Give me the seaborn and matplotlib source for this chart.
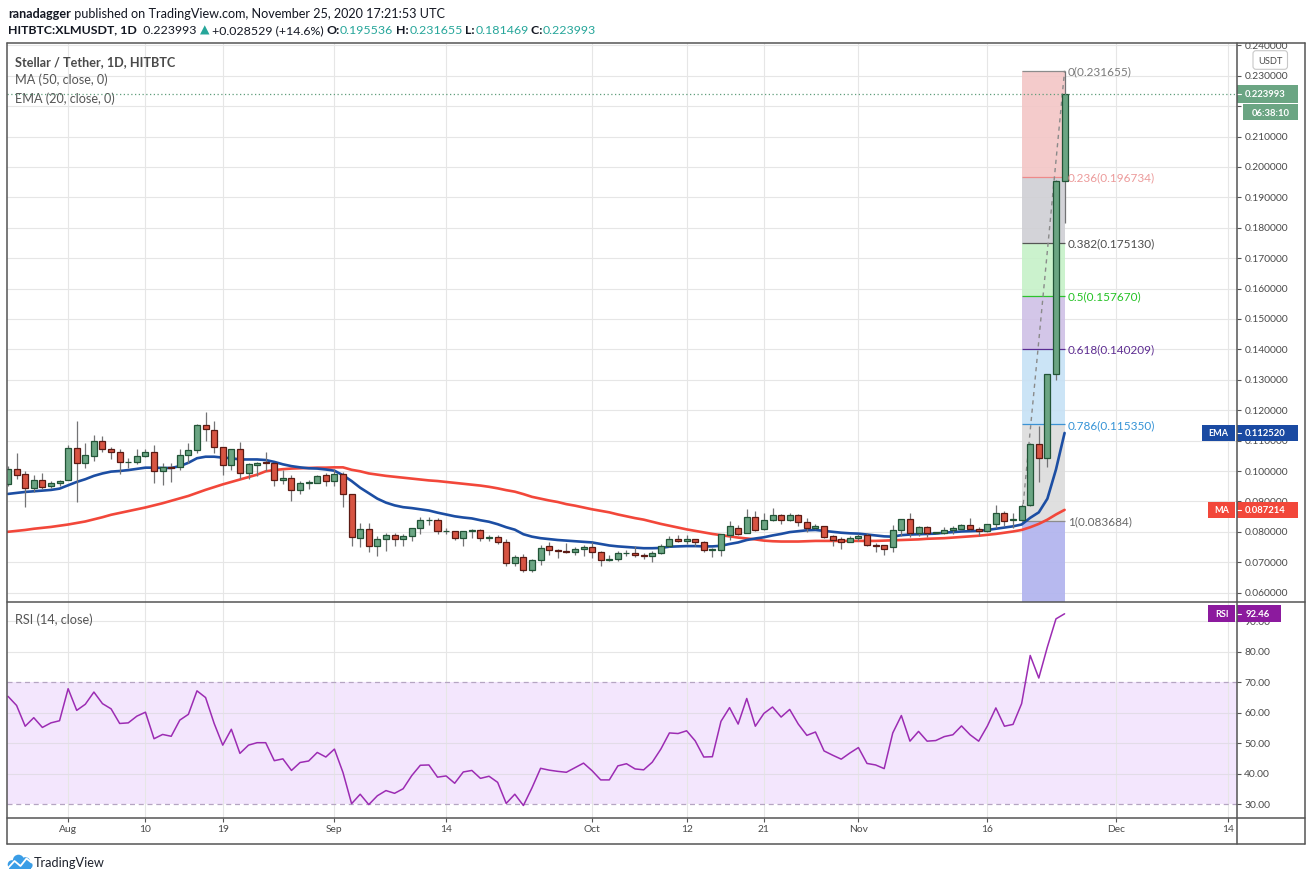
import numpy as np
import pandas as pd
import matplotlib
matplotlib.use("Agg")
import matplotlib.pyplot as plt
import seaborn as sns
from matplotlib import font_manager
from matplotlib.patches import Rectangle, FancyBboxPatch, Circle

# ---------------- data ----------------
start_date = "2020-07-25"

open_ = [
    0.0958, 0.1008, 0.0991, 0.0945, 0.0972, 0.0952, 0.0962, 0.0969, 0.1077, 0.1027,
    0.1049, 0.1099, 0.1073, 0.1063, 0.1030, 0.1030, 0.1050, 0.1063, 0.1001, 0.1013,
    0.1012, 0.1052, 0.1070, 0.1152, 0.1136, 0.1080, 0.1021, 0.1072, 0.0995, 0.1021,
    0.1030, 0.1027, 0.0970, 0.0978, 0.0938, 0.0959, 0.0962, 0.0986, 0.0967, 0.0989,
    0.0923, 0.0781, 0.0809, 0.0752, 0.0776, 0.0791, 0.0776, 0.0786, 0.0811, 0.0838,
    0.0840, 0.0801, 0.0801, 0.0778, 0.0801, 0.0806, 0.0780, 0.0783, 0.0767, 0.0699,
    0.0716, 0.0675, 0.0707, 0.0752, 0.0740, 0.0738, 0.0733, 0.0742, 0.0749, 0.0733,
    0.0708, 0.0710, 0.0729, 0.0731, 0.0723, 0.0721, 0.0731, 0.0752, 0.0775, 0.0771,
    0.0775, 0.0765, 0.0741, 0.0741, 0.0790, 0.0814, 0.0795, 0.0850, 0.0808, 0.0839,
    0.0854, 0.0839, 0.0854, 0.0831, 0.0811, 0.0818, 0.0785, 0.0775, 0.0768, 0.0779,
    0.0788, 0.0757, 0.0755, 0.0751, 0.0806, 0.0841, 0.0795, 0.0815, 0.0795, 0.0797,
    0.0806, 0.0808, 0.0823, 0.0810, 0.0801, 0.0827, 0.0863, 0.0838, 0.0839, 0.0887,
    0.1090, 0.1044, 0.1319, 0.195536]

high = [
    0.1016, 0.1058, 0.1000, 0.0986, 0.0995, 0.0968, 0.0972, 0.1087, 0.1164, 0.1091,
    0.1117, 0.1115, 0.1080, 0.1071, 0.1044, 0.1071, 0.1071, 0.1084, 0.1025, 0.1027,
    0.1071, 0.1093, 0.1155, 0.1195, 0.1166, 0.1080, 0.1073, 0.1095, 0.1027, 0.1030,
    0.1063, 0.1027, 0.1003, 0.0986, 0.0967, 0.0972, 0.0986, 0.0993, 0.1008, 0.0997,
    0.0923, 0.0828, 0.0828, 0.0787, 0.0795, 0.0795, 0.0793, 0.0811, 0.0850, 0.0850,
    0.0846, 0.0813, 0.0801, 0.0801, 0.0810, 0.0809, 0.0790, 0.0788, 0.0775, 0.0724,
    0.0727, 0.0710, 0.0756, 0.0767, 0.0745, 0.0763, 0.0749, 0.0755, 0.0765, 0.0738,
    0.0724, 0.0736, 0.0740, 0.0752, 0.0731, 0.0737, 0.0760, 0.0787, 0.0788, 0.0791,
    0.0775, 0.0771, 0.0746, 0.0793, 0.0836, 0.0822, 0.0874, 0.0869, 0.0863, 0.0878,
    0.0858, 0.0861, 0.0858, 0.0845, 0.0825, 0.0820, 0.0790, 0.0783, 0.0786, 0.0793,
    0.0795, 0.0762, 0.0758, 0.0823, 0.0841, 0.0861, 0.0818, 0.0818, 0.0800, 0.0815,
    0.0818, 0.0825, 0.0845, 0.0817, 0.0827, 0.0887, 0.0869, 0.0863, 0.0891, 0.1092,
    0.1148, 0.1319, 0.1957, 0.231655]

low = [
    0.0951, 0.0975, 0.0880, 0.0932, 0.0940, 0.0945, 0.0950, 0.0969, 0.0898, 0.1009,
    0.1033, 0.1062, 0.1038, 0.0989, 0.1011, 0.1022, 0.1045, 0.0962, 0.0954, 0.0964,
    0.1003, 0.1027, 0.1060, 0.1098, 0.1060, 0.0986, 0.1003, 0.0975, 0.0973, 0.0985,
    0.1000, 0.0951, 0.0956, 0.0902, 0.0924, 0.0942, 0.0959, 0.0951, 0.0951, 0.0882,
    0.0754, 0.0749, 0.0734, 0.0719, 0.0738, 0.0752, 0.0754, 0.0770, 0.0792, 0.0823,
    0.0792, 0.0792, 0.0774, 0.0752, 0.0780, 0.0770, 0.0770, 0.0761, 0.0689, 0.0689,
    0.0668, 0.0668, 0.0690, 0.0725, 0.0713, 0.0730, 0.0725, 0.0722, 0.0714, 0.0689,
    0.0705, 0.0705, 0.0720, 0.0716, 0.0710, 0.0702, 0.0728, 0.0749, 0.0765, 0.0760,
    0.0754, 0.0733, 0.0718, 0.0721, 0.0774, 0.0791, 0.0795, 0.0803, 0.0806, 0.0837,
    0.0827, 0.0836, 0.0820, 0.0798, 0.0809, 0.0778, 0.0754, 0.0745, 0.0766, 0.0771,
    0.0754, 0.0733, 0.0725, 0.0733, 0.0787, 0.0784, 0.0787, 0.0782, 0.0793, 0.0792,
    0.0793, 0.0806, 0.0806, 0.0787, 0.0798, 0.0814, 0.0818, 0.0814, 0.083684, 0.0885,
    0.0964, 0.1014, 0.1300, 0.181469]

close = [
    0.1008, 0.0988, 0.0945, 0.0972, 0.0949, 0.0962, 0.0968, 0.1077, 0.1027, 0.1051,
    0.1099, 0.1073, 0.1063, 0.1031, 0.1031, 0.1050, 0.1063, 0.1001, 0.1013, 0.1010,
    0.1054, 0.1070, 0.1152, 0.1139, 0.1080, 0.1021, 0.1072, 0.0995, 0.1022, 0.1027,
    0.1026, 0.0970, 0.0978, 0.0938, 0.0960, 0.0963, 0.0983, 0.0967, 0.0989, 0.0923,
    0.0784, 0.0809, 0.0752, 0.0776, 0.0791, 0.0777, 0.0786, 0.0811, 0.0838, 0.0840,
    0.0801, 0.0803, 0.0778, 0.0801, 0.0806, 0.0781, 0.0783, 0.0767, 0.0699, 0.0716,
    0.0674, 0.0707, 0.0746, 0.0739, 0.0736, 0.0733, 0.0742, 0.0749, 0.0733, 0.0708,
    0.0710, 0.0729, 0.0731, 0.0723, 0.0721, 0.0731, 0.0752, 0.0775, 0.0771, 0.0775,
    0.0765, 0.0741, 0.0744, 0.0793, 0.0818, 0.0794, 0.0850, 0.0806, 0.0839, 0.0854,
    0.0839, 0.0856, 0.0831, 0.0811, 0.0818, 0.0784, 0.0774, 0.0768, 0.0779, 0.0786,
    0.0757, 0.0754, 0.0744, 0.0806, 0.0841, 0.0795, 0.0815, 0.0795, 0.0798, 0.0806,
    0.0811, 0.0823, 0.0810, 0.0802, 0.0827, 0.0863, 0.0836, 0.0841, 0.0885, 0.1089,
    0.1044, 0.1319, 0.1955, 0.223993]

ema20 = [
    0.09246, 0.09279, 0.09311, 0.09333, 0.09355, 0.09377, 0.0942, 0.0953, 0.0964, 0.0973,
    0.0984, 0.0992, 0.0998, 0.1000, 0.1003, 0.1007, 0.1011, 0.1011, 0.1010, 0.1010,
    0.1016, 0.1027, 0.1042, 0.1047, 0.1047, 0.1044, 0.1042, 0.1038, 0.1038, 0.1038,
    0.1036, 0.1030, 0.1022, 0.1016, 0.1012, 0.1009, 0.1008, 0.1005, 0.1001, 0.0986,
    0.0967, 0.0945, 0.0927, 0.0909, 0.0896, 0.0887, 0.0881, 0.0878, 0.0874, 0.0870,
    0.0863, 0.0857, 0.0851, 0.0847, 0.0844, 0.0838, 0.0833, 0.0825, 0.0815, 0.0807,
    0.0792, 0.0784, 0.0779, 0.0776, 0.0773, 0.0771, 0.0769, 0.0767, 0.0765, 0.0760,
    0.0755, 0.0752, 0.0750, 0.0748, 0.0746, 0.0746, 0.0747, 0.0751, 0.0752, 0.0753,
    0.0753, 0.0752, 0.0752, 0.0754, 0.0760, 0.0765, 0.0773, 0.0778, 0.0782, 0.0788,
    0.0793, 0.0799, 0.0802, 0.0805, 0.0806, 0.0803, 0.0800, 0.0797, 0.0795, 0.0794,
    0.0791, 0.0788, 0.0785, 0.0784, 0.0789, 0.0791, 0.0792, 0.0793, 0.0794, 0.0797,
    0.0799, 0.0801, 0.0802, 0.0803, 0.0806, 0.0810, 0.0814, 0.0818, 0.0824, 0.0846,
    0.0864, 0.0909, 0.1005, 0.11252]

ma50 = [
    0.0800, 0.0803, 0.0806, 0.0810, 0.0813, 0.0816, 0.0820, 0.0824, 0.0829, 0.0834,
    0.0841, 0.0848, 0.0856, 0.0862, 0.0868, 0.0874, 0.0880, 0.0887, 0.0894, 0.0902,
    0.0910, 0.0918, 0.0928, 0.0938, 0.0947, 0.0956, 0.0964, 0.0972, 0.0980, 0.0988,
    0.0999, 0.1003, 0.1006, 0.1008, 0.1009, 0.1010, 0.1011, 0.1011, 0.1012, 0.1012,
    0.1004, 0.0999, 0.0992, 0.0988, 0.0984, 0.0981, 0.0978, 0.0975, 0.0972, 0.0969,
    0.0967, 0.0964, 0.0961, 0.0958, 0.0955, 0.0952, 0.0948, 0.0943, 0.0937, 0.0932,
    0.0924, 0.0915, 0.0909, 0.0903, 0.0898, 0.0891, 0.0886, 0.0880, 0.0874, 0.0869,
    0.0864, 0.0857, 0.0851, 0.0845, 0.0840, 0.0833, 0.0826, 0.0820, 0.0814, 0.0808,
    0.0803, 0.0798, 0.0793, 0.0789, 0.0785, 0.0781, 0.0778, 0.0775, 0.0771, 0.0769,
    0.0768, 0.0768, 0.0768, 0.0769, 0.0770, 0.0770, 0.0770, 0.0770, 0.0770, 0.0770,
    0.0770, 0.0770, 0.0771, 0.0772, 0.0773, 0.0774, 0.0775, 0.0777, 0.0778, 0.0779,
    0.0781, 0.0783, 0.0785, 0.0787, 0.0790, 0.0793, 0.0797, 0.0801, 0.0806, 0.0815,
    0.0826, 0.0840, 0.0857, 0.087214]

rsi14 = [
    65.4, 62.4, 55.6, 58.4, 55.2, 56.7, 57.4, 67.9, 60.8, 62.8,
    66.8, 63.0, 61.3, 56.5, 56.7, 58.9, 60.2, 51.5, 52.9, 52.3,
    57.6, 59.5, 67.2, 65.0, 56.5, 49.4, 54.6, 46.7, 49.4, 50.2,
    50.2, 44.3, 44.9, 41.1, 43.7, 44.2, 47.0, 45.5, 48.1, 40.4,
    30.2, 33.3, 29.9, 32.8, 34.5, 33.6, 35.1, 39.4, 42.8, 42.9,
    38.9, 39.3, 36.9, 40.6, 41.1, 38.5, 39.2, 37.2, 30.3, 33.3,
    29.6, 35.4, 41.8, 41.2, 40.8, 40.5, 42.0, 43.5, 41.0, 38.0,
    38.0, 42.6, 43.3, 41.6, 41.3, 43.8, 48.1, 53.4, 53.2, 54.1,
    50.8, 45.5, 45.6, 57.2, 61.7, 56.3, 64.7, 55.6, 59.8, 61.9,
    58.6, 61.1, 56.3, 52.6, 53.7, 47.5, 46.1, 44.8, 46.8, 48.6,
    43.4, 42.9, 41.7, 53.4, 59.1, 50.7, 53.9, 50.7, 50.9, 52.2,
    52.8, 55.7, 52.8, 50.7, 55.6, 61.6, 55.6, 56.2, 63.0, 78.8,
    71.4, 81.6, 90.8, 92.46]

tick_dates = ["2020-08-01", "2020-08-10", "2020-08-19", "2020-09-01", "2020-09-14",
              "2020-10-01", "2020-10-12", "2020-10-21", "2020-11-01", "2020-11-16",
              "2020-12-01", "2020-12-14"]
tick_labels = ["Aug", "10", "19", "Sep", "14", "Oct", "12", "21", "Nov", "16", "Dec", "14"]
price_ticks = [0.06, 0.07, 0.08, 0.09, 0.10, 0.11, 0.12, 0.13, 0.14, 0.15,
               0.16, 0.17, 0.18, 0.19, 0.20, 0.21, 0.22, 0.23, 0.24]
rsi_ticks = [30, 40, 50, 60, 70, 80, 90]
rsi_grid = [40, 50, 60, 80, 90]
fib_ratios = [0, 0.236, 0.382, 0.5, 0.618, 0.786, 1]
fib_prices = [0.231655, 0.196734, 0.175130, 0.157670, 0.140209, 0.115350, 0.083684]
fib_start_date = "2020-11-20"
countdown = "06:38:10"

# ---------------- style ----------------
sns.set_theme(style="white")
avail = {f.name for f in font_manager.fontManager.ttflist}
BASE = next(c for c in ["Liberation Sans Narrow", "Lato", "Liberation Sans", "DejaVu Sans"] if c in avail)
plt.rcParams["font.family"] = [BASE, "DejaVu Sans"]

UP, UPE = "#6ba583", "#225437"
DN, DNE = "#d75442", "#5b1a13"
WICK = "#737375"
EMA_C, MA_C, RSI_C = "#1c4ea3", "#f2473a", "#9c2cb3"
GRID = "#e6e6e6"
TXT = "#4a4a4a"
TEAL = "#26a69a"

W, H = 1311, 881
L, R = 6.7, 1236.7
TOP, SEP, BOT, FOOT, REDGE = 43.3, 601.7, 817.5, 843.5, 1304.5
PXDAY, X0 = 8.59, 8.0


def price_at(y):
    return 0.10 - (y - 471.0) / 3040.0


def rsi_at(y):
    return 70 - (y - 682.3) / 3.05


fig = plt.figure(figsize=(W / 100, H / 100), dpi=100)
fig.patch.set_facecolor("white")
renderer = fig.canvas.get_renderer()

ax = fig.add_axes([L / W, 1 - SEP / H, (R - L) / W, (SEP - TOP) / H])
ax2 = fig.add_axes([L / W, 1 - BOT / H, (R - L) / W, (BOT - SEP) / H])
ov = fig.add_axes([0, 0, 1, 1], zorder=10)
ov.set_xlim(0, W)
ov.set_ylim(H, 0)
ov.axis("off")
ov.patch.set_alpha(0)


def adv(s, size, weight="normal"):
    t1 = fig.text(0, 0, "|" + s + "|", fontsize=size, fontweight=weight)
    t2 = fig.text(0, 0, "||", fontsize=size, fontweight=weight)
    w = t1.get_window_extent(renderer).width - t2.get_window_extent(renderer).width
    t1.remove()
    t2.remove()
    return w


def fit(s, target, weight="normal"):
    return 10.0 * target / adv(s, 10, weight)


def draw_segs(x, y, segs, target):
    total = sum(adv(s, 10, wt) for s, c, wt in segs)
    size = 10.0 * target / total
    for s, c, wt in segs:
        ov.text(x, y, s, fontsize=size, color=c, fontweight=wt, ha="left", va="center_baseline")
        x += adv(s, size, wt)


# ---------------- frame data ----------------
dates = pd.date_range(start_date, periods=len(close), freq="D")
idx = np.arange(len(close))
df = pd.DataFrame({"i": idx, "open": open_, "high": high, "low": low, "close": close,
                   "ma": ma50, "ema": ema20, "rsi": rsi14})
tick_pos = [(pd.Timestamp(d) - dates[0]).days for d in tick_dates]
fib_i0 = (pd.Timestamp(fib_start_date) - dates[0]).days
fib_i1 = idx[-1]

xlim = ((L - X0) / PXDAY, (R - X0) / PXDAY)
ylim = (price_at(SEP), price_at(TOP))
rlim = (rsi_at(BOT), rsi_at(SEP))

tick_fs = fit("0.230000", 44)

# ---------------- main price pane ----------------
ax.set_facecolor("white")
ax.set_xlim(*xlim)
ax.set_ylim(*ylim)
for s in ax.spines.values():
    s.set_visible(False)
ax.set_xticks(tick_pos)
ax.set_yticks(price_ticks)
ax.grid(True, color=GRID, lw=0.8)
ax.set_axisbelow(True)
ax.yaxis.tick_right()


def py(axis, val):
    return H - axis.transData.transform((0, val))[1]


# the price tag + countdown box covers the axis labels behind it
cy = py(ax, close[-1])
box_top, box_bot = cy - 8.7, cy + 26.3


def price_fmt(v, pos):
    yv = py(ax, v)
    if box_top - 4 < yv < box_bot + 4:
        return ""
    return f"{v:.6f}"


ax.yaxis.set_major_formatter(matplotlib.ticker.FuncFormatter(price_fmt))
ax.tick_params(axis="y", right=True, left=False, labelright=True, labelleft=False,
               direction="out", length=2.9, width=0.8, color="#555555", pad=2.6,
               labelsize=tick_fs, labelcolor=TXT)
ax.tick_params(axis="x", bottom=False, labelbottom=False, length=0)

# fib zones
zone_colors = ["#f3c6c6", "#cfcfd4", "#c6f1c8", "#cfc0e6", "#c6e1f5", "#dcdcdc"]
for j in range(len(fib_prices) - 1):
    ax.fill_between([fib_i0, fib_i1], fib_prices[j + 1], fib_prices[j],
                    color=zone_colors[j], lw=0, alpha=0.9, zorder=1)
ax.fill_between([fib_i0, fib_i1], ylim[0], fib_prices[-1], color="#b3b6ef", lw=0, alpha=0.95, zorder=1)
line_colors = ["#8c8c8c", "#ee8a8a", "#555555", "#2cc22c", "#5b2c93", "#3b92d4", "#8c8c8c"]
label_colors = ["#7a7a7a", "#ec9a9a", "#4d4d4d", "#25c225", "#5d2c91", "#3593d6", "#666666"]
ax.hlines(fib_prices, fib_i0, fib_i1, colors=line_colors, lw=0.9, zorder=1.5)
fib_fs = fit("0.382(0.175130)", 87)
for r, p, col in zip(fib_ratios, fib_prices, label_colors):
    ax.text(fib_i1 + 0.35, p, f"{r:g}({p:.6f})", color=col, fontsize=fib_fs,
            ha="left", va="center_baseline", zorder=6)

# moving averages (behind candles)
sns.lineplot(data=df, x="i", y="ma", ax=ax, color=MA_C, lw=1.9, zorder=2, legend=False)
sns.lineplot(data=df, x="i", y="ema", ax=ax, color=EMA_C, lw=1.9, zorder=2, legend=False)
ax.set_xlabel("")
ax.set_ylabel("")

# fib diagonal
ax.plot([fib_i0, fib_i1], [fib_prices[-1], fib_prices[0]], ls=(0, (3, 3)),
        color="#8a8a8a", lw=1.0, zorder=2.5)

# candles
o = df["open"].values
c = df["close"].values
up = c >= o
ax.vlines(idx, df["low"].values, df["high"].values, color=WICK, lw=0.9, zorder=3)
bottoms = np.minimum(o, c)
heights = np.maximum(np.abs(c - o), 0.00012)
ax.bar(idx[up], heights[up], bottom=bottoms[up], width=0.7, color=UP, edgecolor=UPE,
       lw=0.9, zorder=4)
ax.bar(idx[~up], heights[~up], bottom=bottoms[~up], width=0.7, color=DN, edgecolor=DNE,
       lw=0.9, zorder=4)

# current price dotted line
ax.axhline(close[-1], color="#5f9d7b", lw=0.9, ls=(0, (1, 2)), zorder=5)

# pane legends
leg_fs = fit("EMA (20, close, 0)", 100)
ax.text(15, 60.7, "Stellar / Tether, 1D, HITBTC", transform=ov.transData, clip_on=False,
        fontsize=fit("Stellar / Tether, 1D, HITBTC", 160, "bold"), fontweight="bold",
        color=TXT, va="center_baseline", zorder=3)
ax.text(15, 79, "MA (50, close, 0)", transform=ov.transData, clip_on=False,
        fontsize=leg_fs, color="#555555", va="center_baseline", zorder=3)
ax.text(15, 97.3, "EMA (20, close, 0)", transform=ov.transData, clip_on=False,
        fontsize=leg_fs, color="#555555", va="center_baseline", zorder=3)

# ---------------- RSI pane ----------------
ax2.set_facecolor("white")
ax2.set_xlim(*xlim)
ax2.set_ylim(*rlim)
for s in ax2.spines.values():
    s.set_visible(False)
ax2.axhspan(30, 70, color="#f3e6fd", lw=0, zorder=0.1)
ax2.set_xticks(tick_pos)
ax2.set_xticklabels(tick_labels)
ax2.set_yticks(rsi_ticks)
ax2.xaxis.grid(True, color=GRID, lw=0.8)
ax2.yaxis.grid(False)
ax2.set_axisbelow(True)
for g in rsi_grid:
    ax2.axhline(g, color="#e2dce8" if 30 < g < 70 else GRID, lw=0.8, zorder=0.6)
for g in (30, 70):
    ax2.axhline(g, color="#b5a5c2", lw=0.9, ls=(0, (4, 3)), zorder=0.7)
sns.lineplot(data=df, x="i", y="rsi", ax=ax2, color=RSI_C, lw=1.1, zorder=3, legend=False)
ax2.set_xlabel("")
ax2.set_ylabel("")
ax2.yaxis.tick_right()
ax2.yaxis.set_major_formatter(matplotlib.ticker.FormatStrFormatter("%.2f"))
ax2.tick_params(axis="y", right=True, left=False, labelright=True, labelleft=False,
                direction="out", length=2.9, width=0.8, color="#555555", pad=2.6,
                labelsize=tick_fs, labelcolor=TXT)
ax2.tick_params(axis="x", bottom=True, top=False, direction="out", length=2.9, width=0.8,
                color="#555555", pad=2.6, labelsize=tick_fs, labelcolor=TXT)
ax2.text(15, 619, "RSI (14, close)", transform=ov.transData, clip_on=False,
         fontsize=fit("RSI (14, close)", 78), color="#555555", va="center_baseline", zorder=5)

# ---------------- overlay: header, boxes, frame ----------------
draw_segs(8, 13.3, [("ranadagger", "#131722", "bold"),
                    (" published on TradingView.com, November 25, 2020 17:21:53 UTC", "#131722", "normal")],
          438.5)
draw_segs(8, 29.3, [("HITBTC:XLMUSDT, 1D", "#131722", "bold"),
                    ("  0.223993 ", "#131722", "normal"),
                    ("\u25b2", TEAL, "normal"),
                    (" +0.028529 (+14.6%) ", "#131722", "normal"),
                    ("O:", "#131722", "bold"), (f"{open_[-1]:.6f}", TEAL, "normal"),
                    (" H:", "#131722", "bold"), (f"{high[-1]:.6f}", TEAL, "normal"),
                    (" L:", "#131722", "bold"), (f"{low[-1]:.6f}", TEAL, "normal"),
                    (" C:", "#131722", "bold"), (f"{close[-1]:.6f}", TEAL, "normal")],
          591)

# clip top axis label
ov.add_patch(Rectangle((R + 0.8, 32), REDGE - R - 1.5, TOP - 32, fc="white", ec="none", zorder=1))

box_fs = fit("0.112520", 41, "bold")
name_fs = fit("EMA", 20, "bold")

# current price + countdown
ov.add_patch(Rectangle((R, cy - 8.7), 61.5, 17.4, fc=UP, ec="none", zorder=2))
ov.plot([R, R + 4], [cy, cy], color="white", lw=0.8, zorder=3)
ov.text(R + 8.5, cy - 0.3, f"{close[-1]:.6f}", color="white", fontweight="bold", fontsize=box_fs,
        ha="left", va="center_baseline", zorder=3)
ov.add_patch(Rectangle((R + 6.3, cy + 9.8), 55.2, 16.5, fc=UP, ec="none", zorder=2))
ov.text(R + 33.9, cy + 18.4, countdown, color="white", fontweight="bold", fontsize=box_fs,
        ha="center", va="center_baseline", zorder=3)


def value_box(axis, val, name, fmt, color, name_w, val_w):
    yy = py(axis, val)
    ov.add_patch(Rectangle((R - 1.5 - name_w, yy - 8.3), name_w, 16.6, fc=color, ec="none", zorder=2))
    ov.text(R - 1.5 - name_w / 2, yy, name, color="white", fontweight="bold", fontsize=name_fs,
            ha="center", va="center_baseline", zorder=3)
    ov.add_patch(Rectangle((R, yy - 8.3), val_w, 16.6, fc=color, ec="none", zorder=2))
    ov.plot([R, R + 4], [yy, yy], color="white", lw=0.8, zorder=3)
    ov.text(R + 8.5, yy, fmt.format(val), color="white", fontweight="bold", fontsize=box_fs,
            ha="left", va="center_baseline", zorder=3)


value_box(ax, ema20[-1], "EMA", "{:.6f}", "#1a4aa2", 33, 61.5)
value_box(ax, ma50[-1], "MA", "{:.6f}", "#f2473a", 27, 61.5)
value_box(ax2, rsi14[-1], "RSI", "{:.2f}", "#8c1a9e", 27, 44.5)

# USDT tag
ov.add_patch(FancyBboxPatch((1253, 50.7), 34.5, 18.6, boxstyle="round,pad=0,rounding_size=3",
                            fc="white", ec="#c8c8c8", lw=0.8, zorder=2))
ov.text(1270.2, 60.2, "USDT", color=TXT, fontsize=fit("USDT", 24.5), ha="center",
        va="center_baseline", zorder=3)

# frame
FR = "#555555"
flw = 1.1
ov.plot([L, REDGE], [TOP, TOP], color=FR, lw=flw, zorder=4)
ov.plot([L, REDGE], [FOOT, FOOT], color=FR, lw=flw, zorder=4)
ov.plot([L, L], [TOP, FOOT], color=FR, lw=flw, zorder=4)
ov.plot([REDGE, REDGE], [TOP, FOOT], color=FR, lw=flw, zorder=4)
ov.plot([R, R], [TOP, FOOT], color=FR, lw=flw, zorder=4)
ov.plot([L, REDGE], [SEP, SEP], color=FR, lw=flw, zorder=4)
ov.plot([L, REDGE], [BOT, BOT], color=FR, lw=flw, zorder=4)

# TradingView logo
logo_c = "#3a9de6"
for (lx, ly, lr) in [(12.0, 864.5, 4.3), (18.5, 860.3, 5.6), (25.5, 862.0, 4.8), (29.0, 865.3, 3.6)]:
    ov.add_patch(Circle((lx, ly), lr, fc=logo_c, ec="none", zorder=2))
ov.add_patch(Rectangle((8.5, 864.5), 22.5, 4.5, fc=logo_c, ec="none", zorder=2))
ov.plot([8.5, 14.5, 20.5, 26.5, 31.5], [867.5, 861.0, 866.0, 858.5, 862.5], color="white",
        lw=1.3, zorder=3, solid_capstyle="round")
ov.text(34, 862, "TradingView", color="#1e222d", fontsize=fit("TradingView", 71),
        ha="left", va="center_baseline", zorder=3)

fig.savefig("out.png", dpi=100, facecolor="white")
